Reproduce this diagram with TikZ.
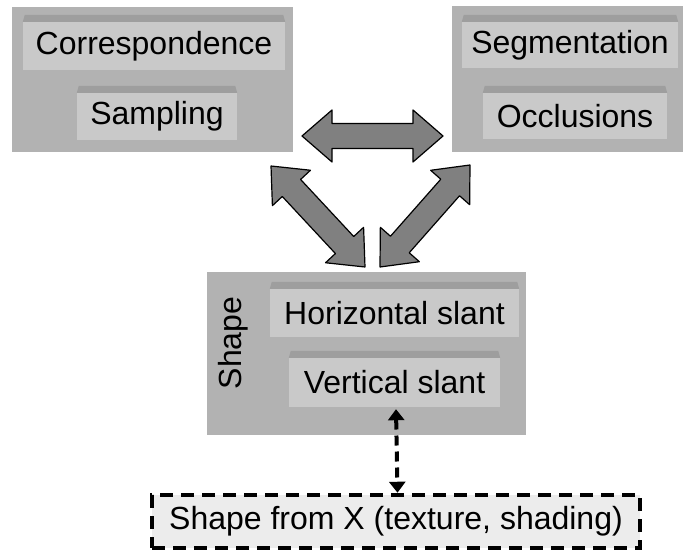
\documentclass[tikz,border=0pt]{standalone}
\usepackage{fontspec}
\setmainfont{Liberation Sans}
\usetikzlibrary{arrows.meta,calc}
\definecolor{panelgray}{RGB}{178,178,178}
\definecolor{facegray}{RGB}{201,201,201}
\definecolor{bevelgray}{RGB}{158,158,158}
\definecolor{arrowgray}{RGB}{128,128,128}
\definecolor{softgray}{RGB}{236,236,236}

% fat double arrow between two named points
\newcommand{\fatarrow}[2]{%
  \coordinate (h1) at ($(#1)!30pt!(#2)$);
  \coordinate (h2) at ($(#2)!30pt!(#1)$);
  \filldraw[fat] (#1) -- ($(h1)!26pt!90:(#2)$) -- ($(h1)!12.5pt!90:(#2)$)
    -- ($(h2)!12.5pt!-90:(#1)$) -- ($(h2)!26pt!-90:(#1)$) -- (#2)
    -- ($(h2)!26pt!90:(#1)$) -- ($(h2)!12.5pt!90:(#1)$)
    -- ($(h1)!12.5pt!-90:(#2)$) -- ($(h1)!26pt!-90:(#2)$) -- cycle;}

\begin{document}
\begin{tikzpicture}[
  x=1pt, y=1pt,
  font=\fontsize{32}{38}\selectfont,
  panel/.style={fill=panelgray, inner sep=0pt},
  face/.style={fill=facegray, inner sep=0pt},
  fat/.style={fill=arrowgray, draw=black, line width=1.2pt, line join=round},
  dashbox/.style={draw, fill=softgray, line width=4.5pt, dash pattern=on 13pt off 8pt,
    minimum width=488pt, minimum height=53pt, inner sep=0pt},
  dasharr/.style={{Triangle[width=16pt,length=11pt]}-{Triangle[width=16pt,length=11pt]},
    line width=4pt, dash pattern=on 10pt off 6pt}
]
\useasboundingbox (0,0) rectangle (683,552);

% panels
\node[panel, minimum width=281pt, minimum height=145pt] (match) at (152.5,472.5) {};
\node[panel, minimum width=231pt, minimum height=146pt] (occpanel) at (567.5,473) {};
\node[panel, minimum width=319pt, minimum height=163pt] (shape) at (366.5,198.5) {};

% buttons
\node[face, minimum width=262pt, minimum height=48pt] (corr) at (154,506) {Correspondence};
\node[face, minimum width=160pt, minimum height=47pt] (samp) at (157,435.5) {Sampling};
\node[face, minimum width=216pt, minimum height=46pt] (segm) at (570,507) {Segmentation};
\node[face, minimum width=184pt, minimum height=46pt] (occl) at (575,436) {Occlusions};
\node[face, minimum width=249pt, minimum height=48pt] (horz) at (394.5,239) {Horizontal slant};
\node[face, minimum width=211pt, minimum height=49pt] (vert) at (394.5,169.5) {Vertical slant};
\node[rotate=90] (shapelbl) at (233,209) {Shape};

\foreach \b in {corr,samp,segm,occl,horz,vert}
  \fill[bevelgray] (\b.north west) -- ([shift={(2,7)}]\b.north west)
    -- ([shift={(-2,7)}]\b.north east) -- (\b.north east) -- cycle;

% shape from X
\node[dashbox] (sfx) at (396,30.5) {Shape from X (texture, shading)};
\draw[dasharr] ([xshift=1.5pt,yshift=-2pt]vert.south) -- ([xshift=1.5pt]sfx.north);

% fat arrows
\coordinate (ha) at (302,416);
\coordinate (hb) at (443,416);
\coordinate (la) at (271,386);
\coordinate (lb) at (365,285);
\coordinate (ra) at (470,387);
\coordinate (rb) at (380,285);
\fatarrow{ha}{hb}
\fatarrow{la}{lb}
\fatarrow{ra}{rb}
\end{tikzpicture}
\end{document}
